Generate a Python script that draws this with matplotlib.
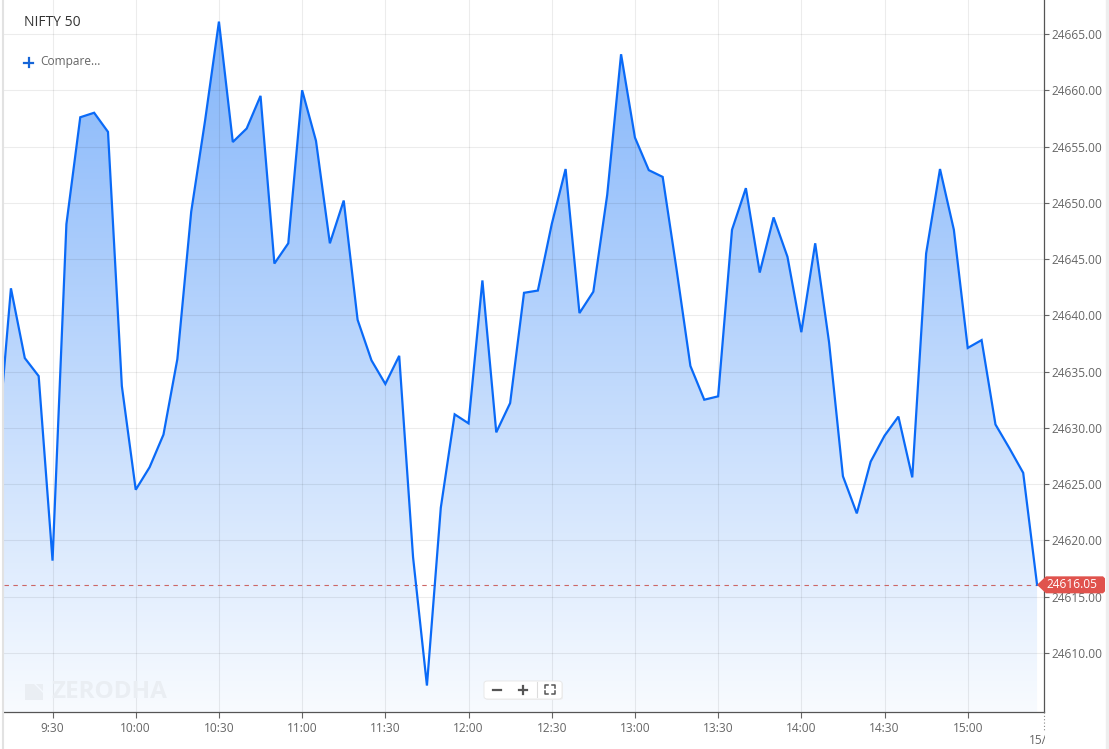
import numpy as np
import matplotlib
matplotlib.use("Agg")
import matplotlib.pyplot as plt
from matplotlib.patches import Polygon, FancyBboxPatch
from matplotlib.transforms import Bbox, TransformedBbox
from matplotlib.lines import Line2D

plt.rcParams['font.family'] = ['Open Sans', 'DejaVu Sans']

# ---------------- data ----------------
times = ['9:10', '9:15', '9:20', '9:25', '9:30', '9:35', '9:40', '9:45', '9:50', '9:55',
         '10:00', '10:05', '10:10', '10:15', '10:20', '10:25', '10:30', '10:35', '10:40', '10:45',
         '10:50', '10:55', '11:00', '11:05', '11:10', '11:15', '11:20', '11:25', '11:30', '11:35',
         '11:40', '11:45', '11:50', '11:55', '12:00', '12:05', '12:10', '12:15', '12:20', '12:25',
         '12:30', '12:35', '12:40', '12:45', '12:50', '12:55', '13:00', '13:05', '13:10', '13:15',
         '13:20', '13:25', '13:30', '13:35', '13:40', '13:45', '13:50', '13:55', '14:00', '14:05',
         '14:10', '14:15', '14:20', '14:25', '14:30', '14:35', '14:40', '14:45', '14:50', '14:55',
         '15:00', '15:05', '15:10', '15:15', '15:20', '15:25']
prices = [24627.8, 24642.4, 24636.2, 24634.6, 24618.2, 24648.1, 24657.6, 24658.0, 24656.3, 24633.7,
          24624.5, 24626.5, 24629.4, 24636.1, 24649.2, 24657.3, 24666.1, 24655.4, 24656.6, 24659.5,
          24644.6, 24646.4, 24660.0, 24655.5, 24646.4, 24650.2, 24639.6, 24636.0, 24633.9, 24636.4,
          24618.5, 24607.1, 24622.9, 24631.2, 24630.4, 24643.1, 24629.6, 24632.2, 24642.0, 24642.2,
          24648.1, 24653.0, 24640.2, 24642.1, 24650.7, 24663.2, 24655.8, 24652.9, 24652.3, 24644.1,
          24635.5, 24632.5, 24632.8, 24647.6, 24651.3, 24643.8, 24648.7, 24645.2, 24638.5, 24646.4,
          24637.6, 24625.7, 24622.4, 24627.0, 24629.3, 24631.0, 24625.6, 24645.5, 24653.0, 24647.6,
          24637.1, 24637.8, 24630.3, 24628.2, 24626.0, 24616.05]
last_price = 24616.05
x_tick_labels = ['9:30', '10:00', '10:30', '11:00', '11:30', '12:00', '12:30',
                 '13:00', '13:30', '14:00', '14:30', '15:00']
y_ticks = [24610, 24615, 24620, 24625, 24630, 24635, 24640, 24645, 24650, 24655, 24660, 24665]
title = 'NIFTY 50'


def to_min(s):
    h, m = s.split(':')
    return int(h) * 60 + float(m)


x = np.array([to_min(t) for t in times])
y = np.array(prices)
xt = np.array([to_min(t) for t in x_tick_labels])

W, H = 1109, 749
fig = plt.figure(figsize=(W / 100, H / 100), dpi=100)
fig.patch.set_facecolor('white')

L, R, T, B = 4, 1044, 0, 712
ax = fig.add_axes([L / W, 1 - B / H, (R - L) / W, (B - T) / H])
ax.set_facecolor('white')

xmin, xmax = to_min('9:12.5'), to_min('15:27.5')
ymin, ymax = 24604.75, 24668.02
ax.set_xlim(xmin, xmax)
ax.set_ylim(ymin, ymax)

# gradient fill under the line
verts = [(x[0], ymin)] + list(zip(x, y)) + [(x[-1], ymin)]
poly = Polygon(verts, closed=True, facecolor='none', edgecolor='none')
ax.add_patch(poly)
top_c = np.array([0x80, 0xb3, 0xfa]) / 255
bot_c = np.array([0xf8, 0xfb, 0xff]) / 255
n = 256
t = np.linspace(0, 1, n)[:, None]
grad = top_c[None, :] * (1 - t) + bot_c[None, :] * t
img = np.repeat(grad[:, None, :], 2, axis=1)
im = ax.imshow(img, extent=[xmin, xmax, ymin, ymax], aspect='auto',
               origin='upper', zorder=1, interpolation='bilinear')
im.set_clip_path(poly)

# grid
grid_c = (0, 0, 0, 0.075)
for v in y_ticks:
    ax.axhline(v, color=grid_c, lw=0.8, zorder=2)
for v in xt:
    ax.axvline(v, color=grid_c, lw=0.8, zorder=2)

# price line
ax.plot(x, y, color='#0a6af7', lw=1.6, zorder=4, solid_joinstyle='miter')

# last price dashed line
ax.axhline(last_price, color='#cc6666', lw=0.8, ls=(0, (4, 4)), zorder=3)

# axes styling
for s in ['left', 'top']:
    ax.spines[s].set_visible(False)
for s in ['bottom', 'right']:
    ax.spines[s].set_color('#555555')
    ax.spines[s].set_linewidth(0.9)
ax.yaxis.tick_right()
ax.set_yticks(y_ticks)
ax.set_yticklabels([f'{v:.2f}' for v in y_ticks])
ax.set_xticks(xt)
ax.set_xticklabels(x_tick_labels)
ax.tick_params(axis='y', direction='out', length=3.5, width=0.8, color='#666666',
               labelcolor='#666666', labelsize=8.6, pad=2)
ax.tick_params(axis='x', direction='out', length=4, width=0.8, color='#666666',
               labelcolor='#666666', labelsize=8.6, pad=3)


def fx(px):
    return px / W


def fy(py):
    return 1 - py / H


# dotted day-boundary tick and clipped label
fig.add_artist(Line2D([fx(R), fx(R)], [fy(712), fy(732)], color='#888888',
                      lw=0.8, ls=(0, (1, 2))))
tx = fig.text(fx(1029), fy(740), '15/07', fontsize=8.6, color='#666666',
              ha='left', va='center')
tx.set_clip_box(TransformedBbox(Bbox([[0, 0], [(R + 1) / W, 1]]), fig.transFigure))
tx.set_clip_on(True)

# price tag (y tied to data)
fig.canvas.draw()
_, ypix = ax.transData.transform((xmax, last_price))
ty_px = H - ypix
tag = [(1037, ty_px), (1046, ty_px - 8.5), (1103, ty_px - 8.5),
       (1105, ty_px - 6.5), (1105, ty_px + 6.5), (1103, ty_px + 8.5),
       (1046, ty_px + 8.5)]
fig.add_artist(Polygon([(fx(a), fy(b)) for a, b in tag], closed=True,
                       facecolor='#e0534d', edgecolor='none', transform=fig.transFigure,
                       zorder=10))
fig.text(fx(1072), fy(ty_px), f'{last_price:.2f}', color='white', fontsize=8.6,
         ha='center', va='center', zorder=11)

# title / compare
fig.text(fx(24), fy(22), title, fontsize=10, color='#333333', ha='left', va='center')
fig.add_artist(Line2D([fx(24), fx(33)], [fy(62.5), fy(62.5)], color='#1565d8', lw=1.6))
fig.add_artist(Line2D([fx(28.5), fx(28.5)], [fy(58), fy(67)], color='#1565d8', lw=1.6))
fig.text(fx(40), fy(62), 'Compare...', fontsize=8.6, color='#666666', ha='left', va='center')

# watermark
wm = '#eaeef3'
logo = [(25, 684), (34, 684), (43, 693), (43, 700), (25, 700)]
fig.add_artist(Polygon([(fx(a), fy(b)) for a, b in logo], closed=True,
                       facecolor=wm, edgecolor='none', transform=fig.transFigure))
fig.add_artist(Polygon([(fx(a), fy(b)) for a, b in [(36, 684), (43, 684), (43, 691)]],
                       closed=True, facecolor=wm, edgecolor='none',
                       transform=fig.transFigure))
fig.text(fx(51), fy(692), 'ZERODHA', fontsize=17.5, color=wm, ha='left',
         va='center', fontweight='bold')

# zoom controls
fig.add_artist(FancyBboxPatch((fx(485), fy(700)), fx(78), 18 / H,
                              boxstyle='round,pad=0,rounding_size=0.003',
                              facecolor='#f0f0f0', edgecolor='none',
                              transform=fig.transFigure, zorder=8))
fig.add_artist(FancyBboxPatch((fx(484), fy(699)), fx(78), 18 / H,
                              boxstyle='round,pad=0,rounding_size=0.003',
                              facecolor='white', edgecolor='#e6e6e6', lw=0.6,
                              transform=fig.transFigure, zorder=9))
fig.add_artist(Line2D([fx(493), fx(501)], [fy(690), fy(690)], color='#555555', lw=1.6,
                      zorder=10))
fig.add_artist(Line2D([fx(519), fx(527)], [fy(690), fy(690)], color='#555555', lw=1.6,
                      zorder=10))
fig.add_artist(Line2D([fx(523), fx(523)], [fy(686), fy(694)], color='#555555', lw=1.6,
                      zorder=10))
fig.add_artist(Line2D([fx(537), fx(537)], [fy(682), fy(697)], color='#dddddd', lw=0.8,
                      zorder=10))
for cx, cy, dx, dy in [(545, 685, 1, 1), (555, 685, -1, 1), (545, 694, 1, -1), (555, 694, -1, -1)]:
    fig.add_artist(Line2D([fx(cx), fx(cx), fx(cx + 3 * dx)],
                          [fy(cy + 3 * dy), fy(cy), fy(cy)],
                          color='#555555', lw=1.1, zorder=10))

# outer borders
fig.add_artist(Line2D([fx(2.5), fx(2.5)], [0, 1], color='#e2e2e2', lw=1.5))
fig.add_artist(Line2D([fx(1107), fx(1107)], [0, 1], color='#eeeeee', lw=2.5))

fig.savefig('out.png', dpi=100, facecolor='white')
